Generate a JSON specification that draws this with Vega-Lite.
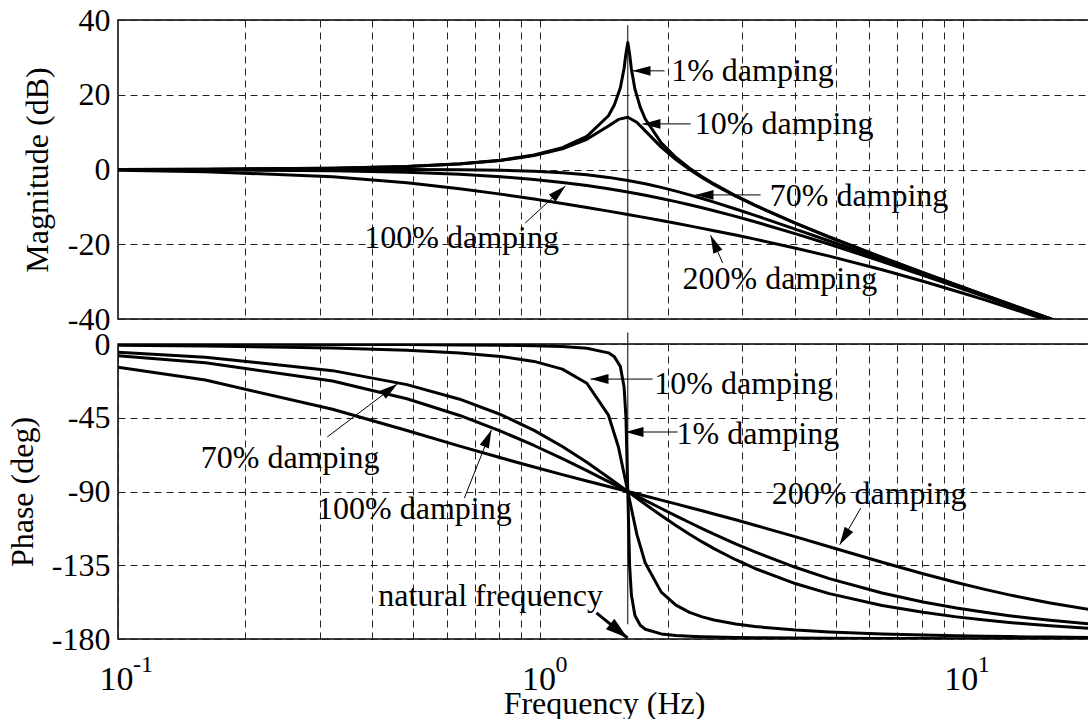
{
  "$schema": "https://vega.github.io/schema/vega-lite/v6.json",
  "background": "white",
  "padding": {"left": 5, "top": 3, "right": 0, "bottom": 0},
  "config": {
    "font": "Liberation Serif",
    "view": {"stroke": "black", "strokeWidth": 1.5},
    "axis": {
      "domain": false,
      "ticks": false,
      "grid": true,
      "gridColor": "#222222",
      "gridDash": [7, 5],
      "gridWidth": 1,
      "labelFont": "Liberation Serif",
      "labelFontSize": 32,
      "labelColor": "black",
      "labelPadding": 8,
      "labelFlush": false,
      "labelOverlap": false,
      "labelBound": false,
      "titleFont": "Liberation Serif",
      "titleFontSize": 32,
      "titleFontWeight": "normal",
      "titleColor": "black"
    }
  },
  "datasets": {
    "curves": [
      {"f": 0.1, "d": "1%", "m": 0.03, "p": -0.07},
      {"f": 0.161, "d": "1%", "m": 0.09, "p": -0.12},
      {"f": 0.322, "d": "1%", "m": 0.35, "p": -0.24},
      {"f": 0.483, "d": "1%", "m": 0.82, "p": -0.38},
      {"f": 0.644, "d": "1%", "m": 1.51, "p": -0.55},
      {"f": 0.805, "d": "1%", "m": 2.5, "p": -0.76},
      {"f": 0.966, "d": "1%", "m": 3.88, "p": -1.07},
      {"f": 1.127, "d": "1%", "m": 5.85, "p": -1.57},
      {"f": 1.288, "d": "1%", "m": 8.87, "p": -2.55},
      {"f": 1.449, "d": "1%", "m": 14.39, "p": -5.41},
      {"f": 1.497, "d": "1%", "m": 17.31, "p": -7.84},
      {"f": 1.546, "d": "1%", "m": 21.86, "p": -13.76},
      {"f": 1.578, "d": "1%", "m": 27.09, "p": -26.33},
      {"f": 1.594, "d": "1%", "m": 31.04, "p": -44.86},
      {"f": 1.61, "d": "1%", "m": 33.98, "p": -90},
      {"f": 1.626, "d": "1%", "m": 30.9, "p": -134.86},
      {"f": 1.642, "d": "1%", "m": 26.89, "p": -153.2},
      {"f": 1.674, "d": "1%", "m": 21.49, "p": -165.7},
      {"f": 1.723, "d": "1%", "m": 16.69, "p": -171.6},
      {"f": 1.771, "d": "1%", "m": 13.51, "p": -174.02},
      {"f": 1.932, "d": "1%", "m": 7.12, "p": -176.88},
      {"f": 2.093, "d": "1%", "m": 3.22, "p": -177.84},
      {"f": 2.254, "d": "1%", "m": 0.35, "p": -178.33},
      {"f": 2.415, "d": "1%", "m": -1.94, "p": -178.63},
      {"f": 2.576, "d": "1%", "m": -3.86, "p": -178.83},
      {"f": 2.898, "d": "1%", "m": -7.01, "p": -179.08},
      {"f": 3.22, "d": "1%", "m": -9.54, "p": -179.24},
      {"f": 4.025, "d": "1%", "m": -14.4, "p": -179.45},
      {"f": 4.83, "d": "1%", "m": -18.06, "p": -179.57},
      {"f": 6.44, "d": "1%", "m": -23.52, "p": -179.69},
      {"f": 8.05, "d": "1%", "m": -27.6, "p": -179.76},
      {"f": 9.66, "d": "1%", "m": -30.88, "p": -179.8},
      {"f": 11.27, "d": "1%", "m": -33.63, "p": -179.83},
      {"f": 12.88, "d": "1%", "m": -35.99, "p": -179.85},
      {"f": 14.49, "d": "1%", "m": -38.06, "p": -179.87},
      {"f": 16.1, "d": "1%", "m": -39.91, "p": -179.88},
      {"f": 20, "d": "1%", "m": -43.7, "p": -179.9},

      {"f": 0.1, "d": "10%", "m": 0.03, "p": -0.72},
      {"f": 0.161, "d": "10%", "m": 0.09, "p": -1.16},
      {"f": 0.322, "d": "10%", "m": 0.35, "p": -2.39},
      {"f": 0.483, "d": "10%", "m": 0.8, "p": -3.77},
      {"f": 0.644, "d": "10%", "m": 1.48, "p": -5.44},
      {"f": 0.805, "d": "10%", "m": 2.42, "p": -7.6},
      {"f": 0.966, "d": "10%", "m": 3.73, "p": -10.62},
      {"f": 1.127, "d": "10%", "m": 5.53, "p": -15.35},
      {"f": 1.288, "d": "10%", "m": 8.09, "p": -23.96},
      {"f": 1.449, "d": "10%", "m": 11.64, "p": -43.45},
      {"f": 1.53, "d": "10%", "m": 13.41, "p": -62.83},
      {"f": 1.61, "d": "10%", "m": 13.98, "p": -90},
      {"f": 1.691, "d": "10%", "m": 12.63, "p": -116.02},
      {"f": 1.771, "d": "10%", "m": 10.34, "p": -133.67},
      {"f": 1.932, "d": "10%", "m": 6.0, "p": -151.39},
      {"f": 2.093, "d": "10%", "m": 2.65, "p": -159.35},
      {"f": 2.254, "d": "10%", "m": 0.0, "p": -163.74},
      {"f": 2.415, "d": "10%", "m": -2.18, "p": -166.5},
      {"f": 2.576, "d": "10%", "m": -4.04, "p": -168.41},
      {"f": 2.898, "d": "10%", "m": -7.12, "p": -170.87},
      {"f": 3.22, "d": "10%", "m": -9.62, "p": -172.41},
      {"f": 4.025, "d": "10%", "m": -14.44, "p": -174.56},
      {"f": 4.83, "d": "10%", "m": -18.09, "p": -175.71},
      {"f": 6.44, "d": "10%", "m": -23.53, "p": -176.95},
      {"f": 8.05, "d": "10%", "m": -27.61, "p": -177.61},
      {"f": 9.66, "d": "10%", "m": -30.89, "p": -178.04},
      {"f": 11.27, "d": "10%", "m": -33.63, "p": -178.33},
      {"f": 12.88, "d": "10%", "m": -35.99, "p": -178.55},
      {"f": 14.49, "d": "10%", "m": -38.06, "p": -178.71},
      {"f": 16.1, "d": "10%", "m": -39.92, "p": -178.84},
      {"f": 20, "d": "10%", "m": -43.7, "p": -179.07},

      {"f": 0.1, "d": "70%", "m": 0.0, "p": -5.05},
      {"f": 0.161, "d": "70%", "m": 0.0, "p": -8.05},
      {"f": 0.322, "d": "70%", "m": 0.0, "p": -16.26},
      {"f": 0.483, "d": "70%", "m": -0.02, "p": -24.78},
      {"f": 0.644, "d": "70%", "m": -0.08, "p": -33.69},
      {"f": 0.805, "d": "70%", "m": -0.22, "p": -43.03},
      {"f": 0.966, "d": "70%", "m": -0.47, "p": -52.7},
      {"f": 1.127, "d": "70%", "m": -0.87, "p": -62.51},
      {"f": 1.288, "d": "70%", "m": -1.41, "p": -72.18},
      {"f": 1.449, "d": "70%", "m": -2.11, "p": -81.42},
      {"f": 1.61, "d": "70%", "m": -2.92, "p": -90},
      {"f": 1.771, "d": "70%", "m": -3.83, "p": -97.77},
      {"f": 1.932, "d": "70%", "m": -4.79, "p": -104.68},
      {"f": 2.093, "d": "70%", "m": -5.79, "p": -110.76},
      {"f": 2.254, "d": "70%", "m": -6.78, "p": -116.09},
      {"f": 2.415, "d": "70%", "m": -7.76, "p": -120.76},
      {"f": 2.576, "d": "70%", "m": -8.72, "p": -124.85},
      {"f": 2.898, "d": "70%", "m": -10.56, "p": -131.63},
      {"f": 3.22, "d": "70%", "m": -12.26, "p": -136.97},
      {"f": 4.025, "d": "70%", "m": -16.0, "p": -146.31},
      {"f": 4.83, "d": "70%", "m": -19.12, "p": -152.3},
      {"f": 6.44, "d": "70%", "m": -24.09, "p": -159.53},
      {"f": 8.05, "d": "70%", "m": -27.96, "p": -163.74},
      {"f": 9.66, "d": "70%", "m": -31.13, "p": -166.5},
      {"f": 11.27, "d": "70%", "m": -33.8, "p": -168.46},
      {"f": 12.88, "d": "70%", "m": -36.12, "p": -169.92},
      {"f": 14.49, "d": "70%", "m": -38.17, "p": -171.05},
      {"f": 16.1, "d": "70%", "m": -40.0, "p": -171.95},
      {"f": 20, "d": "70%", "m": -43.8, "p": -173.5},

      {"f": 0.1, "d": "100%", "m": -0.03, "p": -7.19},
      {"f": 0.161, "d": "100%", "m": -0.09, "p": -11.42},
      {"f": 0.322, "d": "100%", "m": -0.34, "p": -22.62},
      {"f": 0.483, "d": "100%", "m": -0.75, "p": -33.4},
      {"f": 0.644, "d": "100%", "m": -1.29, "p": -43.6},
      {"f": 0.805, "d": "100%", "m": -1.94, "p": -53.13},
      {"f": 0.966, "d": "100%", "m": -2.67, "p": -61.93},
      {"f": 1.127, "d": "100%", "m": -3.46, "p": -69.98},
      {"f": 1.288, "d": "100%", "m": -4.3, "p": -77.32},
      {"f": 1.449, "d": "100%", "m": -5.15, "p": -83.97},
      {"f": 1.61, "d": "100%", "m": -6.02, "p": -90},
      {"f": 1.771, "d": "100%", "m": -6.89, "p": -95.45},
      {"f": 1.932, "d": "100%", "m": -7.75, "p": -100.39},
      {"f": 2.093, "d": "100%", "m": -8.6, "p": -104.86},
      {"f": 2.254, "d": "100%", "m": -9.43, "p": -108.92},
      {"f": 2.415, "d": "100%", "m": -10.24, "p": -112.62},
      {"f": 2.576, "d": "100%", "m": -11.03, "p": -115.99},
      {"f": 2.898, "d": "100%", "m": -12.55, "p": -121.89},
      {"f": 3.22, "d": "100%", "m": -13.98, "p": -126.87},
      {"f": 4.025, "d": "100%", "m": -17.21, "p": -136.4},
      {"f": 4.83, "d": "100%", "m": -20.0, "p": -143.13},
      {"f": 6.44, "d": "100%", "m": -24.61, "p": -151.93},
      {"f": 8.05, "d": "100%", "m": -28.3, "p": -157.38},
      {"f": 9.66, "d": "100%", "m": -31.36, "p": -161.08},
      {"f": 11.27, "d": "100%", "m": -33.98, "p": -163.74},
      {"f": 12.88, "d": "100%", "m": -36.26, "p": -165.75},
      {"f": 14.49, "d": "100%", "m": -38.28, "p": -167.32},
      {"f": 16.1, "d": "100%", "m": -40.09, "p": -168.58},
      {"f": 20, "d": "100%", "m": -43.8, "p": -170.8},

      {"f": 0.1, "d": "200%", "m": -0.23, "p": -14.16},
      {"f": 0.161, "d": "200%", "m": -0.57, "p": -22.0},
      {"f": 0.322, "d": "200%", "m": -1.94, "p": -39.81},
      {"f": 0.483, "d": "200%", "m": -3.56, "p": -52.82},
      {"f": 0.644, "d": "200%", "m": -5.14, "p": -62.3},
      {"f": 0.805, "d": "200%", "m": -6.59, "p": -69.44},
      {"f": 0.966, "d": "200%", "m": -7.9, "p": -75.07},
      {"f": 1.127, "d": "200%", "m": -9.09, "p": -79.68},
      {"f": 1.288, "d": "200%", "m": -10.16, "p": -83.58},
      {"f": 1.449, "d": "200%", "m": -11.14, "p": -86.98},
      {"f": 1.61, "d": "200%", "m": -12.04, "p": -90},
      {"f": 1.771, "d": "200%", "m": -12.88, "p": -92.73},
      {"f": 1.932, "d": "200%", "m": -13.66, "p": -95.24},
      {"f": 2.093, "d": "200%", "m": -14.4, "p": -97.56},
      {"f": 2.254, "d": "200%", "m": -15.09, "p": -99.73},
      {"f": 2.415, "d": "200%", "m": -15.75, "p": -101.77},
      {"f": 2.576, "d": "200%", "m": -16.37, "p": -103.7},
      {"f": 2.898, "d": "200%", "m": -17.55, "p": -107.28},
      {"f": 3.22, "d": "200%", "m": -18.63, "p": -110.56},
      {"f": 4.025, "d": "200%", "m": -21.06, "p": -117.7},
      {"f": 4.83, "d": "200%", "m": -23.18, "p": -123.69},
      {"f": 6.44, "d": "200%", "m": -26.82, "p": -133.15},
      {"f": 8.05, "d": "200%", "m": -29.89, "p": -140.19},
      {"f": 9.66, "d": "200%", "m": -32.56, "p": -145.56},
      {"f": 11.27, "d": "200%", "m": -34.9, "p": -149.74},
      {"f": 12.88, "d": "200%", "m": -36.98, "p": -153.07},
      {"f": 14.49, "d": "200%", "m": -38.86, "p": -155.77},
      {"f": 16.1, "d": "200%", "m": -40.57, "p": -158.0},
      {"f": 20, "d": "200%", "m": -44.2, "p": -162.0}
    ],
    "magLabels": [
      {"f": 2.04, "v": 26.4, "t": "1% damping"},
      {"f": 2.32, "v": 12.2, "t": "10% damping"},
      {"f": 3.49, "v": -7.1, "t": "70% damping"},
      {"f": 0.383, "v": -18.3, "t": "100% damping"},
      {"f": 2.17, "v": -29.3, "t": "200% damping"}
    ],
    "magArrows": [
      {"f": 1.652, "v": 26.4, "f2": 1.967, "v2": 26.4, "dir": 270},
      {"f": 1.744, "v": 12.2, "f2": 2.267, "v2": 12.2, "dir": 270},
      {"f": 2.329, "v": -6.8, "f2": 3.321, "v2": -6.8, "dir": 270},
      {"f": 1.146, "v": -4.4, "f2": 0.921, "v2": -14.3, "dir": 47},
      {"f": 2.528, "v": -17.6, "f2": 2.7, "v2": -25.0, "dir": 336}
    ],
    "phaseLabels": [
      {"f": 1.86, "v": -24.4, "t": "10% damping"},
      {"f": 2.1, "v": -54.9, "t": "1% damping"},
      {"f": 3.53, "v": -91.5, "t": "200% damping"},
      {"f": 0.157, "v": -69.6, "t": "70% damping"},
      {"f": 0.296, "v": -100.7, "t": "100% damping"},
      {"f": 0.413, "v": -153.8, "t": "natural frequency"}
    ],
    "phaseArrows": [
      {"f": 1.314, "v": -21.4, "f2": 1.843, "v2": -21.4, "dir": 270},
      {"f": 1.59, "v": -53.7, "f2": 2.112, "v2": -53.7, "dir": 270},
      {"f": 5.11, "v": -122.5, "f2": 5.732, "v2": -100.1, "dir": 211},
      {"f": 0.4583, "v": -24.4, "f2": 0.3129, "v2": -56.7, "dir": 53},
      {"f": 0.7654, "v": -52.5, "f2": 0.6605, "v2": -94.0, "dir": 23}
    ],
    "naturalArrow": [
      {"f": 1.608, "v": -179.4, "f2": 1.357, "v2": -164.1, "dir": 129}
    ],
    "decades": [
      {"f": 0.1, "e": "-1"},
      {"f": 1, "e": "0"},
      {"f": 10, "e": "1"}
    ]
  },
  "bounds": "flush",
  "spacing": 25,
  "vconcat": [
    {
      "width": 972,
      "height": 299,
      "layer": [
        {
          "data": {"name": "curves"},
          "mark": {"type": "line", "clip": true, "color": "black", "strokeWidth": 3, "strokeJoin": "round"},
          "encoding": {
            "x": {
              "field": "f", "type": "quantitative",
              "scale": {"type": "log", "domain": [0.1, 20], "nice": false},
              "axis": {"values": [0.2, 0.3, 0.4, 0.5, 0.6, 0.7, 0.8, 0.9, 1, 2, 3, 4, 5, 6, 7, 8, 9, 10], "labels": false, "title": null}
            },
            "y": {
              "field": "m", "type": "quantitative",
              "scale": {"domain": [-40, 40], "nice": false, "zero": false},
              "axis": {"values": [-40, -20, 0, 20, 40], "labelExpr": "'' + datum.value", "title": "Magnitude (dB)", "titlePadding": 13}
            },
            "detail": {"field": "d"}
          }
        },
        {
          "data": {"values": [{"f": 1.61, "hi": 38.6, "lo": -40}]},
          "mark": {"type": "rule", "color": "black", "strokeWidth": 1},
          "encoding": {
            "x": {"field": "f", "type": "quantitative"},
            "y": {"field": "hi", "type": "quantitative"},
            "y2": {"field": "lo"}
          }
        },
        {
          "data": {"name": "magArrows"},
          "mark": {"type": "rule", "color": "black", "strokeWidth": 1},
          "encoding": {
            "x": {"field": "f", "type": "quantitative"},
            "y": {"field": "v", "type": "quantitative"},
            "x2": {"field": "f2"},
            "y2": {"field": "v2"}
          }
        },
        {
          "data": {"name": "magArrows"},
          "mark": {"type": "point", "shape": "M0,0L0.55,2L-0.55,2Z", "filled": true, "color": "black", "opacity": 1, "size": 324, "strokeWidth": 0},
          "encoding": {
            "x": {"field": "f", "type": "quantitative"},
            "y": {"field": "v", "type": "quantitative"},
            "angle": {"field": "dir", "type": "quantitative", "scale": null}
          }
        },
        {
          "data": {"name": "magLabels"},
          "mark": {"type": "text", "align": "left", "baseline": "middle", "font": "Liberation Serif", "fontSize": 32, "color": "black"},
          "encoding": {
            "x": {"field": "f", "type": "quantitative"},
            "y": {"field": "v", "type": "quantitative"},
            "text": {"field": "t"}
          }
        }
      ]
    },
    {
      "width": 972,
      "height": 295,
      "layer": [
        {
          "data": {"name": "curves"},
          "mark": {"type": "line", "clip": true, "color": "black", "strokeWidth": 3, "strokeJoin": "round"},
          "encoding": {
            "x": {
              "field": "f", "type": "quantitative",
              "scale": {"type": "log", "domain": [0.1, 20], "nice": false},
              "axis": {
                "values": [0.1, 0.2, 0.3, 0.4, 0.5, 0.6, 0.7, 0.8, 0.9, 1, 2, 3, 4, 5, 6, 7, 8, 9, 10],
                "labelExpr": "datum.value == 0.1 || datum.value == 1 || datum.value == 10 ? '10' : ''",
                "labelFontSize": 34,
                "labelBaseline": "top",
                "labelPadding": 23,
                "labelOffset": -2,
                "title": "Frequency (Hz)",
                "titlePadding": -8
              }
            },
            "y": {
              "field": "p", "type": "quantitative",
              "scale": {"domain": [-180, 0], "nice": false, "zero": false},
              "axis": {"values": [-180, -135, -90, -45, 0], "labelExpr": "'' + datum.value", "title": "Phase (deg)", "titlePadding": 12}
            },
            "detail": {"field": "d"}
          }
        },
        {
          "data": {"values": [{"f": 1.61, "hi": 7, "lo": -171}]},
          "mark": {"type": "rule", "color": "black", "strokeWidth": 1},
          "encoding": {
            "x": {"field": "f", "type": "quantitative"},
            "y": {"field": "hi", "type": "quantitative"},
            "y2": {"field": "lo"}
          }
        },
        {
          "data": {"name": "phaseArrows"},
          "mark": {"type": "rule", "color": "black", "strokeWidth": 1},
          "encoding": {
            "x": {"field": "f", "type": "quantitative"},
            "y": {"field": "v", "type": "quantitative"},
            "x2": {"field": "f2"},
            "y2": {"field": "v2"}
          }
        },
        {
          "data": {"name": "phaseArrows"},
          "mark": {"type": "point", "shape": "M0,0L0.55,2L-0.55,2Z", "filled": true, "color": "black", "opacity": 1, "size": 324, "strokeWidth": 0},
          "encoding": {
            "x": {"field": "f", "type": "quantitative"},
            "y": {"field": "v", "type": "quantitative"},
            "angle": {"field": "dir", "type": "quantitative", "scale": null}
          }
        },
        {
          "data": {"name": "naturalArrow"},
          "mark": {"type": "rule", "color": "black", "strokeWidth": 3},
          "encoding": {
            "x": {"field": "f", "type": "quantitative"},
            "y": {"field": "v", "type": "quantitative"},
            "x2": {"field": "f2"},
            "y2": {"field": "v2"}
          }
        },
        {
          "data": {"name": "naturalArrow"},
          "mark": {"type": "point", "shape": "M0,0L0.6,2L-0.6,2Z", "filled": true, "color": "black", "opacity": 1, "size": 500, "strokeWidth": 0},
          "encoding": {
            "x": {"field": "f", "type": "quantitative"},
            "y": {"field": "v", "type": "quantitative"},
            "angle": {"field": "dir", "type": "quantitative", "scale": null}
          }
        },
        {
          "data": {"name": "phaseLabels"},
          "mark": {"type": "text", "align": "left", "baseline": "middle", "font": "Liberation Serif", "fontSize": 32, "color": "black"},
          "encoding": {
            "x": {"field": "f", "type": "quantitative"},
            "y": {"field": "v", "type": "quantitative"},
            "text": {"field": "t"}
          }
        },
        {
          "data": {"name": "decades"},
          "mark": {"type": "text", "align": "left", "baseline": "alphabetic", "font": "Liberation Serif", "fontSize": 24, "color": "black", "dx": 15, "dy": 33},
          "encoding": {
            "x": {"field": "f", "type": "quantitative"},
            "y": {"datum": -180, "type": "quantitative"},
            "text": {"field": "e"}
          }
        }
      ]
    }
  ]
}
